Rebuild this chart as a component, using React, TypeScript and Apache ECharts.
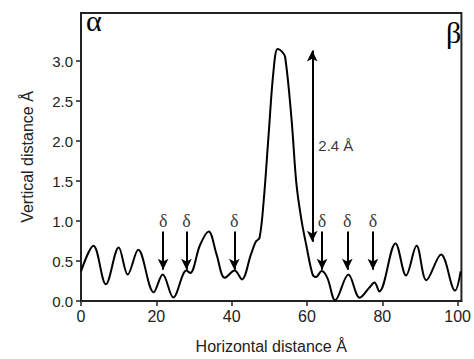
import React, { useEffect, useRef } from "react";
import * as echarts from "echarts";

// Profile curve (horizontal distance Å, vertical distance Å)
const profileX = [0, 3.3, 6.6, 10, 12.4, 15.2, 19.3, 21.7, 24.5, 28, 29, 31.6, 33.9, 36, 38.2, 40.8, 42.7, 45.1, 46.4, 47.4, 48.5, 49.8, 51.1, 52.2, 53.3, 54.2, 55.9, 57.2, 58.5, 59.8, 61.5, 62.4, 63.9, 65.4, 67.5, 71, 74, 76.6, 77.9, 79.2, 83.5, 86.3, 89.1, 91.7, 95.6, 99.3, 100.8];
const profileY = [0.37, 0.69, 0.21, 0.67, 0.33, 0.64, 0.11, 0.33, 0.045, 0.38, 0.35, 0.7, 0.87, 0.58, 0.29, 0.38, 0.27, 0.58, 0.74, 0.79, 1.25, 2.07, 2.87, 3.15, 3.12, 3.05, 2.27, 1.46, 1.02, 0.7, 0.33, 0.3, 0.375, 0.29, 0.01, 0.33, 0.04, 0.17, 0.23, 0.12, 0.72, 0.32, 0.69, 0.26, 0.58, 0.13, 0.37];

// δ markers
const deltaX = [21.8, 28, 40.7, 64, 70.7, 77.5];
const deltaArrowTop = 0.87;
const deltaArrowTip = 0.39;
const deltaLabelY = 1.0;

// 2.4 Å double arrow
const gapArrowX = 61.4;
const gapArrowFrom = 0.74;
const gapArrowTo = 3.13;
const gapLabel = "2.4 Å";
const gapLabelPos = [63, 1.95];

const xTicks = [0, 20, 40, 60, 80, 100];
const yTicks = [0, 0.5, 1.0, 1.5, 2.0, 2.5, 3.0];

export default function App() {
  const ref = useRef<HTMLDivElement>(null);
  useEffect(() => {
    if (!ref.current) return;
    const chart = echarts.init(ref.current, null, { renderer: "svg" });
    const curve = profileX.map((x, i) => [x, profileY[i]]);
    const arrowData = deltaX.map((x) => [
      { coord: [x, deltaArrowTop] },
      { coord: [x, deltaArrowTip] },
    ]);
    const font = "'Liberation Sans', Arial, sans-serif";
    const serif = "'Liberation Serif', 'Times New Roman', serif";
    chart.setOption({
      animation: false,
      grid: {
        left: 81,
        right: 3,
        top: 13,
        bottom: 48,
        show: true,
        borderColor: "#222",
        borderWidth: 2,
      },
      xAxis: {
        type: "value",
        min: 0,
        max: 101,
        interval: 20,
        name: "Horizontal distance Å",
        nameLocation: "middle",
        nameGap: 37,
        nameTextStyle: { fontFamily: font, fontSize: 16, color: "#222" },
        axisLine: { show: true, lineStyle: { color: "#222", width: 2 } },
        axisTick: { show: true, inside: false, length: 5, lineStyle: { color: "#222", width: 1.5 }, customValues: xTicks },
        axisLabel: { margin: 7, fontFamily: font, fontSize: 16, color: "#222", customValues: xTicks },
        splitLine: { show: false },
      },
      yAxis: {
        type: "value",
        min: 0,
        max: 3.6,
        interval: 0.5,
        name: "Vertical distance Å",
        nameLocation: "middle",
        nameGap: 46,
        nameRotate: 90,
        nameTextStyle: { fontFamily: font, fontSize: 16, color: "#222" },
        axisLine: { show: true, lineStyle: { color: "#222", width: 2 } },
        axisTick: { show: true, inside: false, length: 5, lineStyle: { color: "#222", width: 1.5 }, customValues: yTicks },
        axisLabel: {
          margin: 8,
          fontFamily: font,
          fontSize: 15,
          color: "#222",
          customValues: yTicks,
          formatter: (v: number) => v.toFixed(1),
        },
        splitLine: { show: false },
      },
      graphic: [
        {
          type: "text",
          left: 86,
          top: 5,
          style: { text: "α", font: `30px ${serif}`, fill: "#000" },
        },
        {
          type: "text",
          left: 446,
          top: 17,
          style: { text: "β", font: `30px ${serif}`, fill: "#000" },
        },
      ],
      series: [
        {
          type: "line",
          data: curve,
          smooth: 0.35,
          showSymbol: false,
          symbol: "none",
          lineStyle: { color: "#000", width: 2 },
          silent: true,
          markLine: {
            silent: true,
            symbol: ["none", "arrow"],
            symbolSize: [8, 11],
            label: { show: false },
            lineStyle: { color: "#000", width: 2, type: "solid" },
            data: [
              ...arrowData,
              [
                { coord: [gapArrowX, gapArrowFrom], symbol: "arrow" },
                { coord: [gapArrowX, gapArrowTo] },
              ],
            ],
          },
        },
        {
          type: "scatter",
          silent: true,
          symbolSize: 0.1,
          itemStyle: { color: "rgba(0,0,0,0)" },
          data: deltaX.map((x) => [x, deltaLabelY]),
          label: {
            show: true,
            position: "inside",
            formatter: "δ",
            fontFamily: serif,
            fontSize: 18,
            color: "#000",
          },
        },
        {
          type: "scatter",
          silent: true,
          symbolSize: 0.1,
          itemStyle: { color: "rgba(0,0,0,0)" },
          data: [gapLabelPos],
          label: {
            show: true,
            position: "right",
            distance: 0,
            formatter: gapLabel,
            fontFamily: font,
            fontSize: 15,
            color: "#000",
          },
        },
      ],
    });
    return () => chart.dispose();
  }, []);
  return (
    <div
      ref={ref}
      style={{ position: "fixed", left: 0, top: 0, width: 474, height: 359, background: "#fff" }}
    />
  );
}
